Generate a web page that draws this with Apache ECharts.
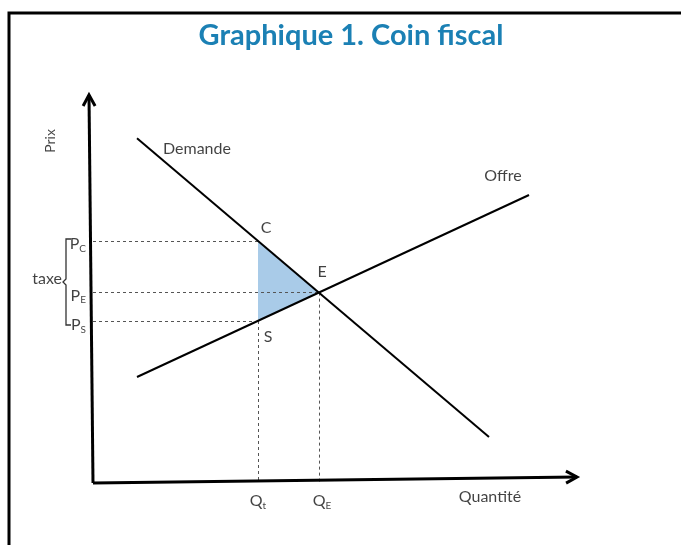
<!DOCTYPE html>
<html>
<head>
<meta charset="utf-8">
<script src="https://cdn.jsdelivr.net/npm/echarts@6/dist/echarts.min.js"></script>
<style>
  html, body { margin: 0; padding: 0; background: #fff; }
  #chart { width: 681px; height: 545px; }
</style>
</head>
<body>
<div id="chart"></div>
<script>
// Demand and supply curves: [quantity, price]
const demandLine = [[8.8, 86.2], [79.2, 11.5]];
const supplyLine = [[8.8, 26.5], [87.2, 72.0]];
// Equilibrium without the tax
const qEquilibrium = 45.2;
const pEquilibrium = 47.6;
// With the tax: quantity traded, price paid by buyers, price received by sellers
const qTax = 33;
const pConsumer = 60.5;
const pSupplier = 40.5;
// Hand-drawn axes (slightly tilted), from origin to arrow tip
const yAxisLine = [[0, 0], [-0.8, 97]];
const xAxisLine = [[0, 0], [96.8, 1.5]];

const FONT = 'Lato, "Open Sans", sans-serif';
const TXT = '#111';

const subRich = {
  m: { fontSize: 16, fontFamily: FONT, color: TXT },
  s: { fontSize: 10, fontFamily: FONT, color: TXT, padding: [9, 0, 0, 0] }
};

function arrowHead(params, api) {
  const tip = api.coord([api.value(2), api.value(3)]);
  const from = api.coord([api.value(0), api.value(1)]);
  const dx = tip[0] - from[0], dy = tip[1] - from[1];
  const len = Math.hypot(dx, dy);
  const ux = dx / len, uy = dy / len;
  const L = 11, W = 6;
  const bx = tip[0] - ux * L, by = tip[1] - uy * L;
  const px = -uy, py = ux;
  return {
    type: 'polyline',
    shape: { points: [[bx + px * W, by + py * W], tip, [bx - px * W, by - py * W]] },
    style: { stroke: '#000', lineWidth: 3, fill: null, lineJoin: 'miter' }
  };
}

const chart = echarts.init(document.getElementById('chart'));
chart.setOption({
  animation: false,
  backgroundColor: '#fff',
  grid: { left: 0, right: 0, top: 0, bottom: 0 },
  xAxis: { type: 'value', min: -18.6, max: 117.6, show: false },
  yAxis: { type: 'value', min: -15.5, max: 120.75, show: false },
  graphic: [
    { type: 'rect', shape: { x: 9, y: 13, width: 720, height: 580 },
      style: { fill: null, stroke: '#000', lineWidth: 3 } },
    { type: 'text', x: 351, y: 36,
      style: { text: 'Graphique 1. Coin fiscal', textAlign: 'center', textVerticalAlign: 'middle',
               font: 'bold 29px ' + FONT, fill: '#1b80b4' } }
  ],
  series: [
    // Tax wedge triangle C-E-S
    {
      type: 'custom', silent: true, z: 1,
      data: [[qTax, pConsumer]],
      renderItem: function (params, api) {
        const c = api.coord([qTax, pConsumer]);
        const e = api.coord([qEquilibrium, pEquilibrium]);
        const s = api.coord([qTax, pSupplier]);
        return { type: 'polygon', shape: { points: [c, e, s] },
                 style: { fill: '#a9cbe8', stroke: null } };
      }
    },
    // Dashed guide lines
    {
      type: 'lines', coordinateSystem: 'cartesian2d', silent: true, z: 2,
      lineStyle: { color: '#555', width: 1, type: [3, 3], opacity: 1 },
      data: [
        { coords: [[0, pConsumer], [qTax, pConsumer]] },
        { coords: [[0, pEquilibrium], [qEquilibrium, pEquilibrium]] },
        { coords: [[0, pSupplier], [qTax, pSupplier]] },
        { coords: [[qTax, pSupplier], [qTax, 0]] },
        { coords: [[qEquilibrium, pEquilibrium], [qEquilibrium, 0]] }
      ]
    },
    // Demand and supply
    { type: 'line', data: demandLine, symbol: 'none', z: 3, silent: true,
      lineStyle: { color: '#000', width: 2 } },
    { type: 'line', data: supplyLine, symbol: 'none', z: 3, silent: true,
      lineStyle: { color: '#000', width: 2 } },
    // Axes
    { type: 'line', data: yAxisLine, symbol: 'none', z: 4, silent: true,
      lineStyle: { color: '#000', width: 3 } },
    { type: 'line', data: xAxisLine, symbol: 'none', z: 4, silent: true,
      lineStyle: { color: '#000', width: 3 } },
    { type: 'custom', z: 5, silent: true, renderItem: arrowHead,
      data: [[yAxisLine[0][0], yAxisLine[0][1], yAxisLine[1][0], yAxisLine[1][1]],
             [xAxisLine[0][0], xAxisLine[0][1], xAxisLine[1][0], xAxisLine[1][1]]] },
    // Tax bracket between P_C and P_S
    {
      type: 'custom', z: 5, silent: true,
      data: [[0, pConsumer, pSupplier]],
      renderItem: function (params, api) {
        const top = api.coord([0, pConsumer]);
        const bot = api.coord([0, pSupplier]);
        const x = top[0] - 27, y1 = top[1] - 2, y2 = bot[1] + 4, ym = (y1 + y2) / 2;
        return { type: 'polyline',
          shape: { points: [[x + 5, y1], [x, y1], [x, ym - 3], [x - 3, ym], [x, ym + 3], [x, y2], [x + 5, y2]] },
          style: { stroke: '#333', lineWidth: 1.3, fill: null } };
      }
    },
    // Text labels
    {
      type: 'scatter', symbolSize: 0, z: 6, silent: true,
      label: { show: true, fontFamily: FONT, fontSize: 16, color: TXT },
      data: [
        { value: demandLine[0], label: { formatter: 'Demande', position: 'right', offset: [21, 11] } },
        { value: supplyLine[1], label: { formatter: 'Offre', position: 'inside', offset: [-26, -19] } },
        { value: [qTax, pConsumer], label: { formatter: 'C', position: 'inside', offset: [8, -13] } },
        { value: [qEquilibrium, pEquilibrium], label: { formatter: 'E', position: 'inside', offset: [3, -21] } },
        { value: [qTax, pSupplier], label: { formatter: 'S', position: 'inside', offset: [10, 16] } },
        { value: xAxisLine[1], label: { formatter: 'Quantité', position: 'inside', offset: [-87, 20] } },
        { value: yAxisLine[1], label: { formatter: 'Prix', position: 'inside', offset: [-46, -39], rotate: 90, fontSize: 14 } },
        { value: [0, pEquilibrium], label: { formatter: 'taxe', position: 'left', offset: [-26, -14] } },
        { value: [qTax, 0], label: { formatter: '{m|Q}{s|t}', rich: subRich, position: 'inside', offset: [0, 18] } },
        { value: [qEquilibrium, 0], label: { formatter: '{m|Q}{s|E}', rich: subRich, position: 'inside', offset: [3, 18] } },
        { value: [0, pConsumer], label: { formatter: '{m|P}{s|C}', rich: subRich, position: 'left', offset: [-2, 3] } },
        { value: [0, pEquilibrium], label: { formatter: '{m|P}{s|E}', rich: subRich, position: 'left', offset: [-2, 3] } },
        { value: [0, pSupplier], label: { formatter: '{m|P}{s|S}', rich: subRich, position: 'left', offset: [-2, 4] } }
      ]
    }
  ]
});
</script>
</body>
</html>
